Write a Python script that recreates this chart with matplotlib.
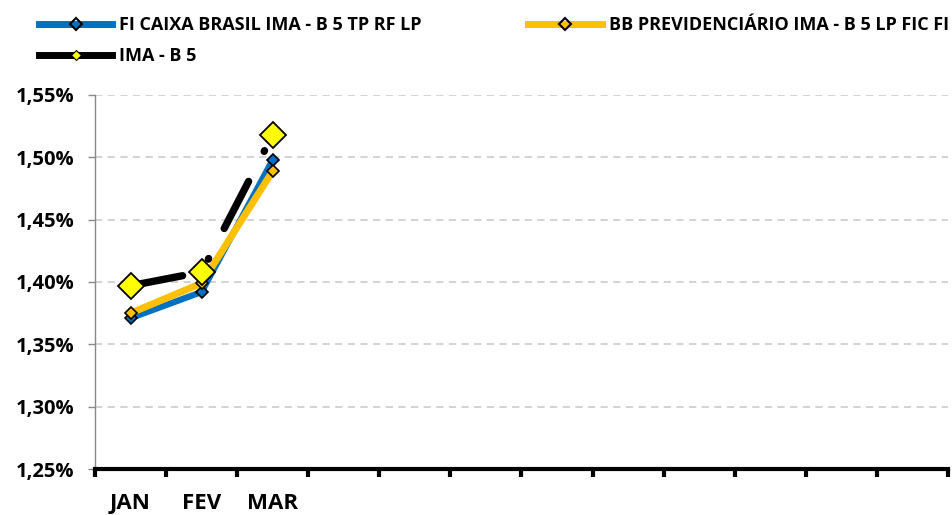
import matplotlib
matplotlib.use("Agg")
import matplotlib.pyplot as plt
from matplotlib.lines import Line2D
from matplotlib.ticker import FuncFormatter, MultipleLocator, FixedLocator

months = ["JAN", "FEV", "MAR", "", "", "", "", "", "", "", "", ""]
caixa = [1.371, 1.392, 1.498]
bb = [1.375, 1.399, 1.489]
ima_b5 = [1.397, 1.408, 1.518]

label_caixa = "FI CAIXA BRASIL IMA - B 5 TP RF LP"
label_bb = "BB PREVIDENCIÁRIO IMA - B 5 LP FIC FI"
label_ima = "IMA - B 5"

blue = "#0070C0"
gold = "#FFC000"
yellow = "#FFFF00"

plt.rcParams["font.family"] = ["Open Sans", "DejaVu Sans"]
plt.rcParams["font.weight"] = "bold"

fig = plt.figure(figsize=(9.53, 5.15), dpi=100)
ax = fig.add_axes([95 / 953, 1 - 469 / 515, 853 / 953, 374 / 515])

x = range(len(caixa))
ax.plot(x, caixa, color=blue, lw=4.5, marker="D", ms=6.5, mfc=blue,
        mec="black", mew=1.2, zorder=3, solid_joinstyle="round")
ax.plot(x, bb, color=gold, lw=5, marker="D", ms=6.5, mfc=gold,
        mec="black", mew=1.2, zorder=4, solid_joinstyle="round")
ax.plot(x, ima_b5, color="black", lw=5.3, ls=(0, (7.2, 4.6, 0.1, 4.6)),
        dash_capstyle="round", marker="D", ms=13, mfc=yellow,
        mec="black", mew=1.3, zorder=5)

ax.set_xlim(-0.5, len(months) - 0.5)
ax.set_ylim(1.25, 1.55)
ax.yaxis.set_major_locator(MultipleLocator(0.05))
ax.yaxis.set_major_formatter(FuncFormatter(lambda v, p: f"{v:.2f}%".replace(".", ",")))

ax.set_xticks(range(len(months)))
ax.set_xticklabels(months)
ax.xaxis.set_minor_locator(FixedLocator([i - 0.5 for i in range(len(months) + 1)]))
ax.tick_params(axis="x", which="major", length=0, pad=17, labelsize=16)
ax.tick_params(axis="x", which="minor", length=6, width=3, color="black")
ax.tick_params(axis="y", length=5, width=1, color="#888888", labelsize=14.5, pad=10)

ax.grid(axis="y", color="#D0D0D0", ls=(0, (4, 3)), lw=1.3)
ax.set_axisbelow(True)
for s in ["top", "right"]:
    ax.spines[s].set_visible(False)
ax.spines["left"].set_color("#888888")
ax.spines["left"].set_linewidth(1)
ax.spines["bottom"].set_color("black")
ax.spines["bottom"].set_linewidth(3)

handles = [
    Line2D([], [], color=blue, lw=5, marker="D", ms=6, mfc="none", mec="black", mew=1.5),
    Line2D([], [], color="black", lw=5, marker="D", ms=5, mfc=yellow, mec="black", mew=0.8),
    Line2D([], [], color=gold, lw=5, marker="D", ms=6, mfc="none", mec="black", mew=1.5),
]
fig.legend(handles, [label_caixa, label_ima, label_bb], ncol=2, loc="upper left",
           bbox_to_anchor=(23 / 953, 1.0), frameon=False, handlelength=4.05,
           handletextpad=0.39, columnspacing=5.9, labelspacing=0.7, fontsize=13)

fig.savefig("out.png", dpi=100)
